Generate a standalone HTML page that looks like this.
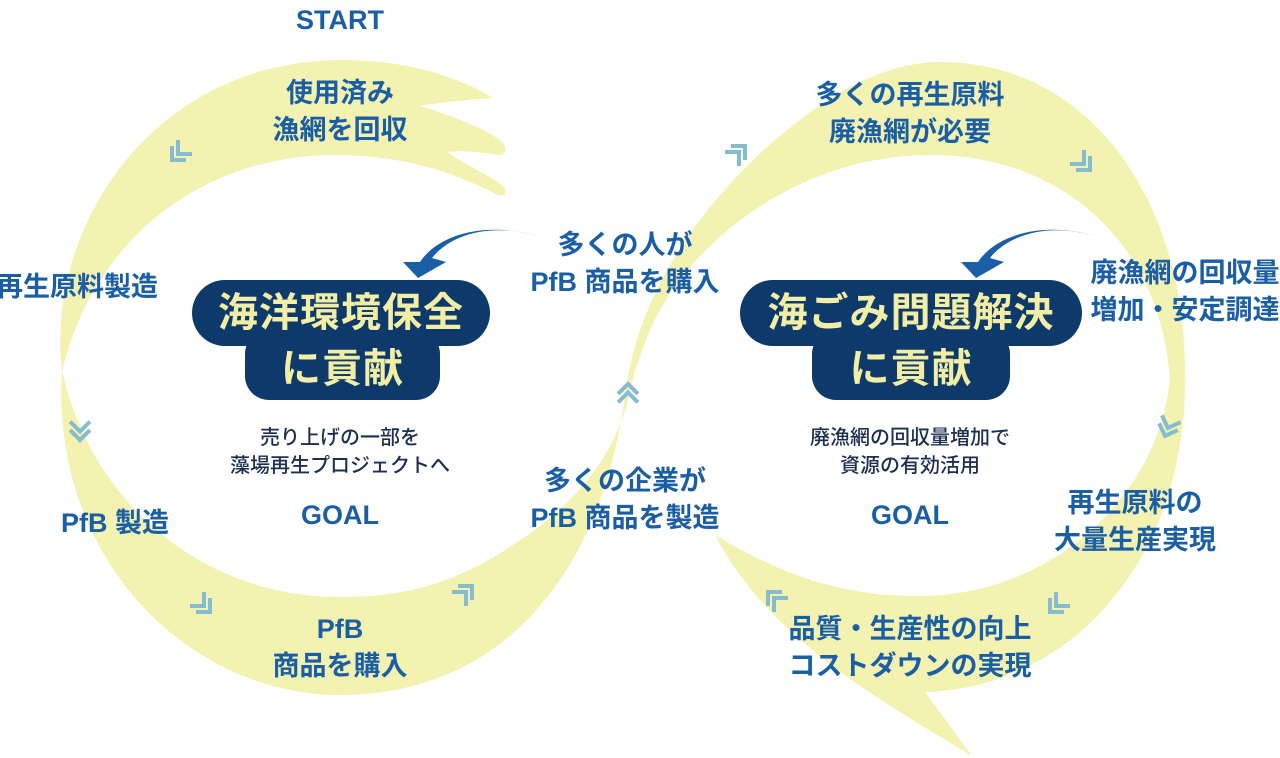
<!DOCTYPE html>
<html><head><meta charset="utf-8">
<style>
html,body{margin:0;padding:0;background:#fff;}
body{width:1280px;height:758px;position:relative;overflow:hidden;font-family:"Liberation Sans","Noto Sans CJK JP",sans-serif;}
.t{position:absolute;color:#1a5fa6;font-weight:bold;text-align:center;white-space:nowrap;line-height:37px;font-size:27px;}
.s{position:absolute;color:#1b2f52;text-align:center;white-space:nowrap;font-size:20px;line-height:28px;font-weight:500;}
.pill{position:absolute;background:#0e3a6b;}
.pt{position:absolute;color:#f3eea6;font-weight:bold;font-size:40px;text-align:center;white-space:nowrap;letter-spacing:1px;}
</style></head><body>
<svg width="1280" height="758" style="position:absolute;left:0;top:0">
<g fill="#f3f2b0">
<path d="M62 372 C45 230 150 62 340 60 C410 60 460 78 493 98 C470 100 440 102 420 106 C450 115 490 130 503 143 C508 150 505 156 498 155 C480 152 462 150 447 152 C465 165 495 178 503 186 C508 193 505 197 498 195 C440 165 390 155 330 155 C190 158 90 250 62 372 Z"/>
<path d="M62 370 C50 560 190 695 340 695 C490 695 600 590 626 390 C640 280 720 180 800 120 C850 80 900 62 940 62 C1090 62 1185 200 1185 372 L1170 380 C1160 240 1060 155 930 155 C800 155 690 240 650 330 C638 360 632 380 628 400 C610 470 560 520 480 565 C430 590 390 597 340 597 C200 597 90 500 62 370 Z"/>
<path d="M1185 368 C1190 560 1070 688 925 692 L972 756 C880 700 770 640 715 535 C790 580 850 597 925 596 C1060 592 1160 490 1170 378 Z"/>
</g>
<g fill="none" stroke="#86bccf" stroke-width="4">
<g transform="translate(172,160) rotate(0)"><path d="M0 -14 L0 0 L14 0 M6 -20 L6 -6 L20 -6"/></g>
<g transform="translate(80,440) rotate(-45)"><path d="M0 -14 L0 0 L14 0 M6 -20 L6 -6 L20 -6"/></g>
<g transform="translate(210,612) rotate(270)"><path d="M0 -14 L0 0 L14 0 M6 -20 L6 -6 L20 -6"/></g>
<g transform="translate(472,586) rotate(180)"><path d="M0 -14 L0 0 L14 0 M6 -20 L6 -6 L20 -6"/></g>
<g transform="translate(628,384) rotate(135)"><path d="M0 -14 L0 0 L14 0 M6 -20 L6 -6 L20 -6"/></g>
<g transform="translate(745,146) rotate(180)"><path d="M0 -14 L0 0 L14 0 M6 -20 L6 -6 L20 -6"/></g>
<g transform="translate(1090,170) rotate(270)"><path d="M0 -14 L0 0 L14 0 M6 -20 L6 -6 L20 -6"/></g>
<g transform="translate(1165,436) rotate(-25)"><path d="M0 -14 L0 0 L14 0 M6 -20 L6 -6 L20 -6"/></g>
<g transform="translate(1050,612) rotate(0)"><path d="M0 -14 L0 0 L14 0 M6 -20 L6 -6 L20 -6"/></g>
<g transform="translate(768,592) rotate(90)"><path d="M0 -14 L0 0 L14 0 M6 -20 L6 -6 L20 -6"/></g>
</g>
<g fill="#1a5fa6">
<path d="M537 236 C490 222 450 235 432 258 L446 262 L418 278 L403 262 L420 262 C440 232 490 222 537 236 Z"/>
<path d="M1095 236 C1048 222 1008 235 990 258 L1004 262 L976 278 L961 262 L978 262 C998 232 1048 222 1095 236 Z"/>
</g>
</svg>
<div class="pill" style="left:192px;top:280px;width:298px;height:66px;border-radius:33px"></div>
<div class="pill" style="left:245px;top:330px;width:195px;height:70px;border-radius:24px"></div>
<div class="pt" style="left:192px;top:290px;width:298px;line-height:46px">海洋環境保全</div>
<div class="pt" style="left:245px;top:346px;width:195px;line-height:46px">に貢献</div>
<div class="pill" style="left:740px;top:280px;width:342px;height:66px;border-radius:33px"></div>
<div class="pill" style="left:812px;top:330px;width:198px;height:70px;border-radius:24px"></div>
<div class="pt" style="left:740px;top:290px;width:342px;line-height:46px">海ごみ問題解決</div>
<div class="pt" style="left:812px;top:346px;width:198px;line-height:46px">に貢献</div>

<div class="t" style="left:240px;top:2px;width:200px">START</div>
<div class="t" style="left:220px;top:75px;width:240px">使用済み<br>漁網を回収</div>
<div class="t" style="left:-4px;top:269px;width:200px;text-align:left">再生原料製造</div>
<div class="t" style="left:30px;top:505px;width:170px">PfB 製造</div>
<div class="t" style="left:240px;top:497px;width:200px">GOAL</div>
<div class="t" style="left:220px;top:611px;width:240px">PfB<br>商品を購入</div>
<div class="t" style="left:500px;top:227px;width:250px">多くの人が<br>PfB 商品を購入</div>
<div class="t" style="left:500px;top:463px;width:250px">多くの企業が<br>PfB 商品を製造</div>
<div class="t" style="left:780px;top:77px;width:260px">多くの再生原料<br>廃漁網が必要</div>
<div class="t" style="left:1080px;top:255px;width:210px">廃漁網の回収量<br>増加・安定調達</div>
<div class="t" style="left:810px;top:497px;width:200px">GOAL</div>
<div class="t" style="left:1010px;top:485px;width:250px">再生原料の<br>大量生産実現</div>
<div class="t" style="left:770px;top:611px;width:280px">品質・生産性の向上<br>コストダウンの実現</div>
<div class="s" style="left:190px;top:424px;width:300px">売り上げの一部を<br>藻場再生プロジェクトへ</div>
<div class="s" style="left:760px;top:424px;width:300px">廃漁網の回収量増加で<br>資源の有効活用</div>
</body></html>
